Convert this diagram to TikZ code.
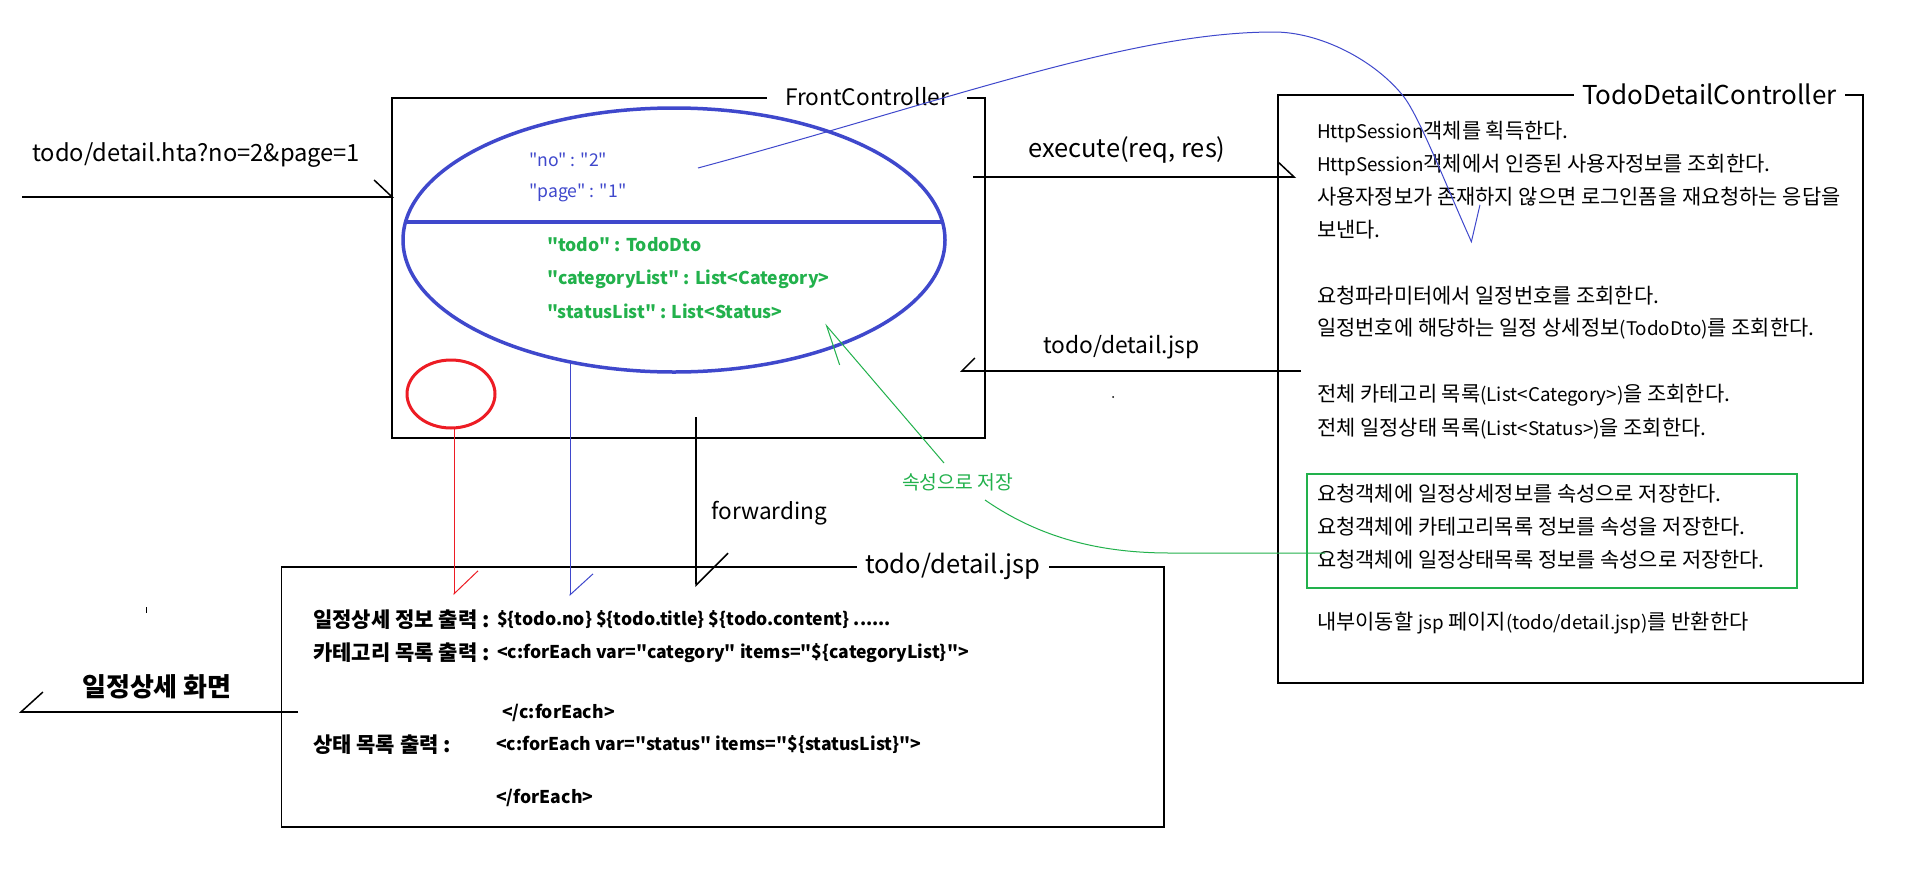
\documentclass[tikz,border=0pt]{standalone}
\usepackage{fontspec}
\setmainfont{Noto Sans CJK KR}[Ligatures=TeXOff]
\newfontfamily\latfam{Noto Sans CJK KR}[Scale=0.9,Ligatures=TeXOff]
\usetikzlibrary{arrows.meta,shapes.geometric}
\definecolor{pblue}{RGB}{63,72,204}
\definecolor{pgreen}{RGB}{34,177,76}
\definecolor{pred}{RGB}{237,28,36}
\newcommand\setfs[1]{\fontsize{#1}{#1}\selectfont}
% Latin runs inside Korean lines are set a little smaller
\newcommand\lat[1]{{\latfam #1}}

\begin{document}
\begin{tikzpicture}[x=1pt,y=-1pt,
  box/.style={draw,line width=1.6pt,inner sep=0pt},
  boxtitle/.style={fill=white,inner sep=0pt,minimum height=20pt},
  txt/.style={anchor=west,inner sep=0pt},
  conn/.style={line width=1.5pt},
  fine/.style={line width=1pt},
  barbL/.style 2 args={-{Straight Barb[harpoon,length=#1,width=#2]}},
  barbR/.style 2 args={-{Straight Barb[harpoon,swap,length=#1,width=#2]}},
  body/.style={txt,font=\setfs{20.9}},
  codelabel/.style={txt,font=\setfs{21}\bfseries},
  code/.style={txt,font=\setfs{17.6}\bfseries},
]
\fill[white] (0,0) rectangle (1907,873);
\useasboundingbox (0,0) rectangle (1907,873);

% frames
\node[box,minimum width=593pt,minimum height=340pt] (fc) at (688.5,268) {};
\node[box,minimum width=585pt,minimum height=588pt] (tdc) at (1570.5,389) {};
\node[box,minimum width=882.5pt,minimum height=260pt] (jsp) at (722.75,697) {};
\node[draw=pgreen,line width=1.2pt,minimum width=490pt,minimum height=114pt,inner sep=0pt] (attrbox) at (1552,531) {};

% frame titles
\node[boxtitle,minimum width=200pt,font=\setfs{22.7}] (fctitle) at (867,97) {FrontController};
\node[boxtitle,minimum width=271pt,font=\setfs{26}] (tdctitle) at (1709.5,94) {TodoDetailController};
\node[boxtitle,minimum width=192pt,font=\setfs{25.6}] (jsptitle) at (953,566) {todo/detail.jsp};

% request scope
\node[draw=pblue,line width=3.5pt,ellipse,minimum width=542pt,minimum height=264pt,inner sep=0pt] (scope) at (674,240) {};
\draw[pblue,line width=3.5pt] (405.5,222) -- (942.5,222);
\node[draw=pred,line width=3pt,ellipse,minimum width=88pt,minimum height=68pt,inner sep=0pt] (mark) at (451,394) {};

\node[txt,text=pblue,font=\setfs{17.6}] (pno) at (529,160) {"no" : "2"};
\node[txt,text=pblue,font=\setfs{17.6}] (ppage) at (529,193) {"page" : "1"};
\node[txt,text=pgreen,font=\setfs{17.6}\bfseries] (atodo) at (547,245) {"todo" : TodoDto};
\node[txt,text=pgreen,font=\setfs{17.6}\bfseries] (acat) at (547,279) {"categoryList" : List<Category>};
\node[txt,text=pgreen,font=\setfs{17.6}\bfseries] (astat) at (547,311) {"statusList" : List<Status>};

% controller steps
\node[body] (s1) at (1317,132) {\lat{HttpSession}객체를 획득한다.};
\node[body] (s2) at (1317,165) {\lat{HttpSession}객체에서 인증된 사용자정보를 조회한다.};
\node[body] (s3) at (1317,197) {사용자정보가 존재하지 않으면 로그인폼을 재요청하는 응답을};
\node[body] (s4) at (1317,230) {보낸다.};
\node[body] (s5) at (1317,296) {요청파라미터에서 일정번호를 조회한다.};
\node[body] (s6) at (1317,329) {일정번호에 해당하는 일정 상세정보\lat{(TodoDto)}를 조회한다.};
\node[body] (s7) at (1317,395) {전체 카테고리 목록\lat{(List<Category>)}을 조회한다.};
\node[body] (s8) at (1317,429) {전체 일정상태 목록\lat{(List<Status>)}을 조회한다.};
\node[body] (s9) at (1317,494) {요청객체에 일정상세정보를 속성으로 저장한다.};
\node[body] (s10) at (1317,527) {요청객체에 카테고리목록 정보를 속성을 저장한다.};
\node[body] (s11) at (1317,560) {요청객체에 일정상태목록 정보를 속성으로 저장한다.};
\node[body] (s12) at (1317,623) {내부이동할 \lat{jsp} 페이지\lat{(todo/detail.jsp)}를 반환한다};

% view page
\node[codelabel] (l1) at (313,620) {일정상세 정보 출력 :};
\node[code] (v1) at (497,620) {\$\{todo.no\} \$\{todo.title\} \$\{todo.content\} ......};
\node[codelabel] (l2) at (313,653) {카테고리 목록 출력 :};
\node[code] (v2) at (497,653) {<c:forEach var="category" items="\$\{categoryList\}">};
\node[code] (v3) at (502,713) {</c:forEach>};
\node[codelabel] (l4) at (313,745) {상태 목록 출력 :};
\node[code] (v4) at (496,745) {<c:forEach var="status" items="\$\{statusList\}">};
\node[code] (v5) at (496,798) {</forEach>};

% labels
\node[txt,font=\setfs{23.7}] (query) at (32,155) {todo/detail.hta?no=2\&page=1};
\node[txt,font=\setfs{25.5}] (exec) at (1028,150) {execute(req, res)};
\node[txt,font=\setfs{22.8}] (retlbl) at (1043,347) {todo/detail.jsp};
\node[txt,font=\setfs{22.6}] (fwd) at (711,513) {forwarding};
\node[txt,text=pgreen,font=\setfs{19.3}] (store) at (902,482) {속성으로 저장};
\node[txt,font=\setfs{26}\bfseries] (screen) at (82,687) {일정상세 화면};

% connector end points
\coordinate (qin) at (22,197);    \coordinate (qtip) at (394,197);
\coordinate (ein) at (973,177);   \coordinate (etip) at (1296,177);
\coordinate (rin) at (1301,371);  \coordinate (rtip) at (960,371);
\coordinate (fin) at (696,417);   \coordinate (ftip) at (696,587);
\coordinate (min) at (454,428);   \coordinate (mtip) at (454,595);
\coordinate (bin) at (570,362);   \coordinate (btip) at (570,596);
\coordinate (gin) at (944,463);   \coordinate (gtip) at (825,324);
\coordinate (vin) at (298,712);   \coordinate (vtip) at (19,712);
\coordinate (ssrc) at (698,168);  \coordinate (sdst) at (1472,243);
\coordinate (asrc) at (985,500);  \coordinate (adst) at (1325,553);

% connectors
\draw[conn,barbL={18pt}{34pt}] (qin) -- (qtip);
\draw[conn,barbL={16pt}{30pt}] (ein) -- (etip);
\draw[conn,barbR={13pt}{26pt}] (rin) -- (rtip);
\draw[conn,barbL={32pt}{64pt}] (fin) -- (ftip);
\draw[conn,barbR={22pt}{40pt}] (vin) -- (vtip);
\draw[fine,pred,barbL={23pt}{48pt}] (min) -- (mtip);
\draw[fine,pblue,barbL={21pt}{46pt}] (bin) -- (btip);
\draw[fine,pgreen,barbL={38pt}{31pt}] (gin) -- (gtip);
\draw[fine,pblue,barbL={30pt}{46pt}] (ssrc) .. controls (950,100) and (1130,32) .. (1274,32)
  .. controls (1320,32) and (1375,60) .. (1404,97)
  .. controls (1420,118) and (1448,190) .. (sdst);
\draw[fine,pgreen] (asrc) .. controls (1040,538) and (1100,553) .. (1170,553) -- (adst);

% stray marks
\draw[line width=1pt] (146,607) -- (146,613);
\fill (1113,397) circle (1);
\end{tikzpicture}
\end{document}
